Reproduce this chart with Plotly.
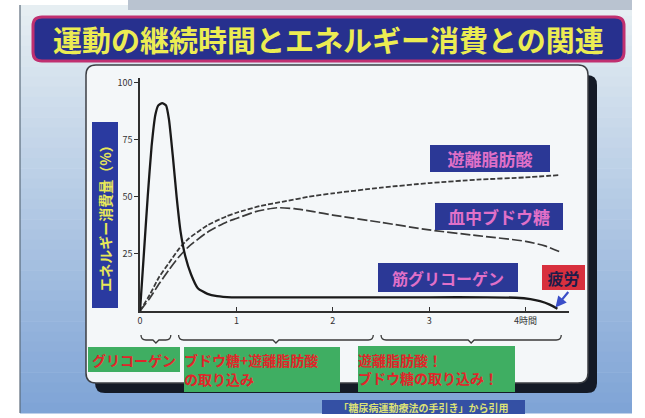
import plotly.graph_objects as go

# ---- data -------------------------------------------------------------
# time since start of exercise (hours) and share of energy supply (%)
glycogen_t = [0, 0.04, 0.08, 0.12, 0.16, 0.19, 0.23, 0.27, 0.30, 0.34, 0.38,
              0.42, 0.47, 0.53, 0.60, 0.70, 0.80, 0.95, 1.2, 2.0, 3.0, 3.6,
              3.9, 4.05, 4.15, 4.25, 4.33]
glycogen_v = [0, 25, 50, 72, 86, 90, 91, 90, 84, 68, 50,
              35, 24, 16, 10, 7.5, 6.5, 6.0, 6.0, 6.0, 6.0, 6.0,
              5.8, 5.2, 4.3, 2.8, 1.0]

ffa_t = [0, 0.1, 0.2, 0.3, 0.4, 0.5, 0.7, 0.9, 1.0, 1.25, 1.5, 1.75, 2.0,
         2.5, 3.0, 3.5, 4.0, 4.35]
ffa_v = [0, 7, 15, 21, 27, 31.5, 37.5, 41.5, 43, 46, 48, 50, 51.5,
         54, 56, 57.5, 58.5, 59.5]

glucose_t = [0, 0.1, 0.2, 0.3, 0.4, 0.5, 0.7, 0.9, 1.0, 1.2, 1.42, 1.6, 1.8,
             2.0, 2.5, 3.0, 3.5, 4.0, 4.2, 4.35]
glucose_v = [0, 5.5, 12, 18, 23.5, 28, 34.5, 39, 40.5, 43.5, 45.2, 44.8, 43.5,
             42, 38.8, 35.5, 33, 30.5, 28.5, 26]

x_ticks = [0, 1, 2, 3, 4]
x_tick_text = ["0", "1", "2", "3", "4時間"]
y_ticks = [25, 50, 75, 100]

# phases of fuel use (hours) and their captions
phase_spans = [(0.0, 0.33), (0.39, 2.43), (2.49, 4.38)]
phase_text = ["グリコーゲン", "ブドウ糖+遊離脂肪酸<br>の取り込み",
              "遊離脂肪酸！<br>ブドウ糖の取り込み！"]

series_labels = ["遊離脂肪酸", "血中ブドウ糖", "筋グリコーゲン"]
title_text = "運動の継続時間とエネルギー消費との関連"
y_title = "エネルギー消費量（%）"
fatigue_text = "疲労"
source_text = "「糖尿病運動療法の手引き」から引用"

# ---- geometry ---------------------------------------------------------
W, H = 645, 418
ML, MR, MT, MB = 140, 76, 78, 107
X_MAX, Y_MAX = 4.45, 102
PW, PH = W - ML - MR, H - MT - MB
FONT = "Noto Sans CJK JP"


def px(x):
    return (x - ML) / PW


def py(y):
    return (H - MB - y) / PH


def hx(t):
    """hours -> pixel x"""
    return ML + t / X_MAX * PW


def rrect(x0, y0, x1, y1, r):
    pts = [("M", x0 + r, y0), ("L", x1 - r, y0), ("Q", x1, y0, x1, y0 + r),
           ("L", x1, y1 - r), ("Q", x1, y1, x1 - r, y1), ("L", x0 + r, y1),
           ("Q", x0, y1, x0, y1 - r), ("L", x0, y0 + r),
           ("Q", x0, y0, x0 + r, y0)]
    out = []
    for p in pts:
        cmd, vals = p[0], p[1:]
        coords = []
        for i in range(0, len(vals), 2):
            coords.append(f"{px(vals[i]):.5f},{py(vals[i + 1]):.5f}")
        out.append(cmd + " " + " ".join(coords))
    return " ".join(out) + " Z"


def lerp_color(c0, c1, f):
    a = [int(c0[i:i + 2], 16) for i in (1, 3, 5)]
    b = [int(c1[i:i + 2], 16) for i in (1, 3, 5)]
    return "#" + "".join(f"{round(a[k] + (b[k] - a[k]) * f):02x}" for k in range(3))


shapes = []

# slide background: vertical gradient built from thin bands
top_c, bot_c = "#e6eef2", "#7fa4d6"
n = 40
y_top, y_bot = 5, 413
for i in range(n):
    ya = y_top + (y_bot - y_top) * i / n
    yb = y_top + (y_bot - y_top) * (i + 1) / n + 0.6
    shapes.append(dict(type="rect", xref="paper", yref="paper", layer="below",
                       x0=px(20), x1=px(632), y0=py(yb), y1=py(ya),
                       fillcolor=lerp_color(top_c, bot_c, i / (n - 1)),
                       line=dict(width=0)))
# slide left edge
shapes.append(dict(type="line", xref="paper", yref="paper", layer="below",
                   x0=px(20), x1=px(20), y0=py(5), y1=py(413),
                   line=dict(color="#5a6a7a", width=1.2)))
# decorative strip along the top
shapes.append(dict(type="rect", xref="paper", yref="paper", layer="below",
                   x0=px(128), x1=px(632), y0=py(10), y1=py(0),
                   fillcolor="#b9c3d0", line=dict(width=0)))

# title banner
shapes.append(dict(type="path", xref="paper", yref="paper", layer="below",
                   path=rrect(33, 17, 624, 61, 9), fillcolor="#27308e",
                   line=dict(color="#c03070", width=3)))

# chart panel with drop shadow
shapes.append(dict(type="path", xref="paper", yref="paper", layer="below",
                   path=rrect(95, 75, 597, 393, 10), fillcolor="#141a26",
                   line=dict(width=0)))
shapes.append(dict(type="path", xref="paper", yref="paper", layer="below",
                   path=rrect(86, 65, 588, 383, 10), fillcolor="#f4f7f9",
                   line=dict(color="#3c3f44", width=1.5)))

# braces marking the phases under the time axis
by = 340
for a, b in phase_spans:
    xa, xb = hx(a) + 1, hx(b) - 1
    xm = (xa + xb) / 2
    path = (f"M {px(xa):.5f},{py(by - 5):.5f} "
            f"Q {px(xa):.5f},{py(by):.5f} {px(xa + 5):.5f},{py(by):.5f} "
            f"L {px(xm - 3):.5f},{py(by):.5f} L {px(xm):.5f},{py(by + 3):.5f} "
            f"L {px(xm + 3):.5f},{py(by):.5f} L {px(xb - 5):.5f},{py(by):.5f} "
            f"Q {px(xb):.5f},{py(by):.5f} {px(xb):.5f},{py(by - 5):.5f}")
    shapes.append(dict(type="path", xref="paper", yref="paper", path=path,
                       line=dict(color="#3a3a3a", width=1.3)))

# ---- figure -----------------------------------------------------------
fig = go.Figure()
fig.add_trace(go.Scatter(x=ffa_t, y=ffa_v, mode="lines", name=series_labels[0],
                         line=dict(color="#3a3a3a", width=1.8, dash="5px,2px",
                                   shape="spline", smoothing=0.6)))
fig.add_trace(go.Scatter(x=glucose_t, y=glucose_v, mode="lines",
                         name=series_labels[1],
                         line=dict(color="#3a3a3a", width=1.7, dash="10px,3px",
                                   shape="spline", smoothing=0.6)))
fig.add_trace(go.Scatter(x=glycogen_t, y=glycogen_v, mode="lines",
                         name=series_labels[2],
                         line=dict(color="#1a1a1a", width=2.3,
                                   shape="spline", smoothing=0.5)))

annotations = []


def box(text, x0, y0, x1, y1, bg, color, size, align="center", bold=True,
        angle=0):
    # filled box as a shape, caption as an annotation on top of it
    shapes.append(dict(type="rect", xref="paper", yref="paper",
                       x0=px(x0), x1=px(x1), y0=py(y1), y1=py(y0),
                       fillcolor=bg, line=dict(width=0)))
    w, h = x1 - x0, y1 - y0
    if angle:
        w, h = h, w
    annotations.append(dict(
        xref="paper", yref="paper", x=px((x0 + x1) / 2), y=py((y0 + y1) / 2),
        xanchor="center", yanchor="middle", showarrow=False,
        text=f"<b>{text}</b>" if bold else text, textangle=angle,
        width=w, height=h, borderpad=0, align=align, valign="middle",
        font=dict(family=FONT, size=size, color=color)))


# title
annotations.append(dict(xref="paper", yref="paper", x=px(328), y=py(39),
                        xanchor="center", yanchor="middle", showarrow=False,
                        text=f"<b>{title_text}</b>",
                        font=dict(family=FONT, size=29, color="#ecec52")))

# y-axis caption
box(y_title, 92, 122, 118, 308, "#2a3aa0", "#e8e858", 14, angle=-90)

# curve labels
box(series_labels[0], 430, 145, 550, 172, "#2b3896", "#e070c8", 17)
box(series_labels[1], 435, 203, 563, 230, "#2b3896", "#e070c8", 17)
box(series_labels[2], 378, 263, 518, 292, "#2b3896", "#e070c8", 16)
box(fatigue_text, 542, 265, 585, 290, "#d8303e", "#1c1c4a", 16)

# arrow from the fatigue tag to the end of the glycogen curve
annotations.append(dict(xref="x", yref="y", x=glycogen_t[-1] - 0.02,
                        y=glycogen_v[-1] + 0.5, ax=14, ay=-17, showarrow=True,
                        arrowhead=2, arrowsize=1, arrowwidth=2.2,
                        arrowcolor="#3a4ec8", text=""))

# phase captions
box(phase_text[0], 88, 347, 180, 372, "#3fae62", "#e0262a", 14)
box(phase_text[1], 184, 347, 340, 392, "#3fae62", "#e0262a", 14, align="left")
box(phase_text[2], 358, 346, 515, 392, "#3fae62", "#e0262a", 14, align="left")

# source
box(source_text, 322, 400, 525, 414, "#3450a4", "#dce276", 10)

fig.update_layout(
    width=W, height=H,
    margin=dict(l=ML, r=MR, t=MT, b=MB),
    paper_bgcolor="#ffffff", plot_bgcolor="rgba(0,0,0,0)",
    showlegend=False,
    shapes=shapes, annotations=annotations,
    font=dict(family=FONT),
    xaxis=dict(range=[0, X_MAX], showgrid=False, zeroline=False,
               showline=True, linecolor="#303030", linewidth=1.6,
               tickvals=x_ticks, ticktext=x_tick_text, ticks="inside",
               ticklen=4, tickcolor="#303030",
               tickfont=dict(size=9, color="#333333")),
    yaxis=dict(range=[0, Y_MAX], showgrid=False, zeroline=False,
               showline=True, linecolor="#303030", linewidth=1.6,
               tickvals=y_ticks, ticks="outside", ticklen=4,
               tickcolor="#303030", tickfont=dict(size=9, color="#333333")),
)

fig.write_html("out.html")
